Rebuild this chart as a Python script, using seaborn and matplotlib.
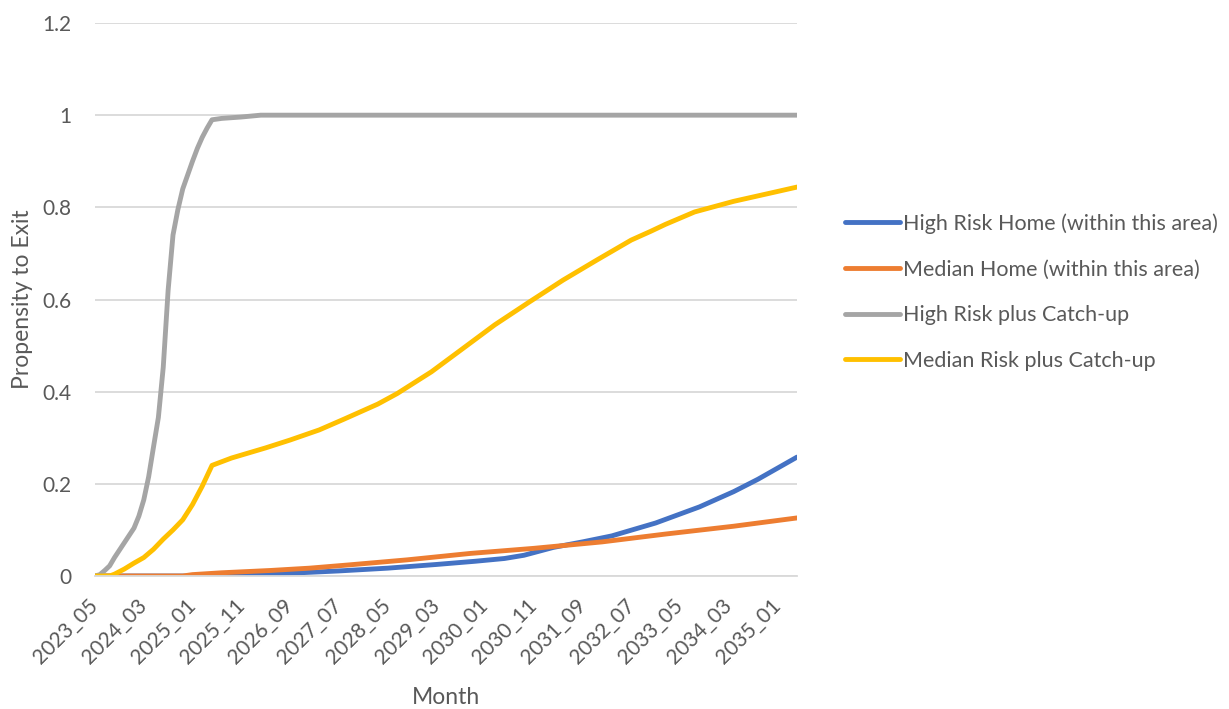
import matplotlib
matplotlib.use("Agg")
import matplotlib.pyplot as plt
import seaborn as sns
import pandas as pd
import numpy as np

# ---- data (month index 0 = 2023_05, 144 = 2035_05) ----
start_month = "2023-05"
n_months = 145
tick_every = 10

series_names = [
    "High Risk Home (within this area)",
    "Median Home (within this area)",
    "High Risk plus Catch-up",
    "Median Risk plus Catch-up",
]
colors = ["#4472C4", "#ED7D31", "#A5A5A5", "#FFC000"]

high_m = [0, 24, 30, 40, 50, 60, 70, 78, 84, 88, 94, 100, 106, 115, 124, 131, 136, 144]
high_v = [0, 0, 0.002, 0.006, 0.011, 0.017, 0.025, 0.032, 0.038, 0.045, 0.062, 0.074,
          0.087, 0.115, 0.150, 0.183, 0.210, 0.258]

median_m = [0, 18, 20, 26, 36, 44, 52, 64, 77, 90, 104, 117, 131, 144]
median_v = [0, 0, 0.003, 0.007, 0.012, 0.017, 0.024, 0.035, 0.049, 0.060, 0.074,
            0.091, 0.108, 0.126]

highcu_m = [0, 1, 2, 3, 4, 5, 6, 7, 8, 9, 10, 11, 12, 13, 14, 15, 16, 17, 18, 19, 20,
            21, 22, 23, 24, 26, 30, 34, 144]
highcu_v = [0, 0.003, 0.012, 0.022, 0.040, 0.056, 0.072, 0.088, 0.104, 0.130, 0.165,
            0.215, 0.280, 0.344, 0.453, 0.620, 0.740, 0.795, 0.840, 0.870, 0.900,
            0.928, 0.952, 0.972, 0.990, 0.993, 0.996, 1.0, 1.0]

medcu_m = [0, 3, 4, 6, 8, 10, 12, 14, 16, 18, 20, 22, 24, 28, 35, 40, 46, 51, 58, 62,
           69, 75, 82, 89, 96, 103, 110, 114, 117, 123, 131, 139, 144]
medcu_v = [0, 0, 0.004, 0.015, 0.028, 0.040, 0.058, 0.080, 0.100, 0.122, 0.155, 0.195,
           0.240, 0.256, 0.278, 0.295, 0.317, 0.340, 0.373, 0.396, 0.443, 0.490, 0.545,
           0.594, 0.642, 0.686, 0.729, 0.748, 0.763, 0.790, 0.813, 0.832, 0.844]

y_ticks = [0, 0.2, 0.4, 0.6, 0.8, 1.0, 1.2]
y_ticklabels = ["0", "0.2", "0.4", "0.6", "0.8", "1", "1.2"]

# ---- build long-form table ----
frames = []
for name, m, v in zip(series_names,
                      [high_m, median_m, highcu_m, medcu_m],
                      [high_v, median_v, highcu_v, medcu_v]):
    frames.append(pd.DataFrame({"month": m, "value": v, "series": name}))
df = pd.concat(frames, ignore_index=True)

months = pd.period_range(start=start_month, periods=n_months, freq="M")
month_labels = [p.strftime("%Y_%m") for p in months]

# ---- plot ----
sns.set_theme(style="white")
plt.rcParams["font.family"] = ["Lato", "DejaVu Sans"]

TXT = "#595959"
W, H = 1229, 709
fig = plt.figure(figsize=(W / 100, H / 100), dpi=100)
ax = fig.add_axes([95 / W, 1 - 576 / H, (797 - 95) / W, (576 - 23) / H])

sns.lineplot(data=df, x="month", y="value", hue="series", hue_order=series_names,
             palette=colors, estimator=None, sort=False, linewidth=3.5, ax=ax,
             legend=False, solid_capstyle="round")

ax.set_xlim(0, n_months - 1)
ax.set_ylim(0, 1.2)
ax.set_yticks(y_ticks)
ax.set_yticklabels(y_ticklabels)
xt = list(range(0, n_months, tick_every))
ax.set_xticks(xt)
ax.set_xticklabels([month_labels[i] for i in xt], rotation=45, ha="right",
                   va="center", rotation_mode="anchor")
ax.tick_params(axis="both", length=0, labelsize=15, colors=TXT)
ax.tick_params(axis="x", pad=19)
ax.tick_params(axis="y", pad=17)

ax.grid(axis="y", color="#d9d9d9", linewidth=1.3)
ax.set_axisbelow(True)
for s in ["top", "right", "left"]:
    ax.spines[s].set_visible(False)
ax.spines["bottom"].set_color("#d9d9d9")
ax.spines["bottom"].set_linewidth(1.3)

ax.set_xlabel("Month", fontsize=16.5, color=TXT, labelpad=14)
ax.set_ylabel("Propensity to Exit", fontsize=16.5, color=TXT, labelpad=7)

handles = [plt.Line2D([], [], color=c, linewidth=3.5, solid_capstyle="round")
           for c in colors]
fig.legend(handles, series_names, loc="center left",
           bbox_to_anchor=(845 / W, 1 - 292 / H), frameon=False, fontsize=15.5,
           handlelength=2.55, handletextpad=0.14, labelspacing=1.19, borderpad=0,
           borderaxespad=0, labelcolor=TXT)

fig.savefig("out.png", dpi=100)
